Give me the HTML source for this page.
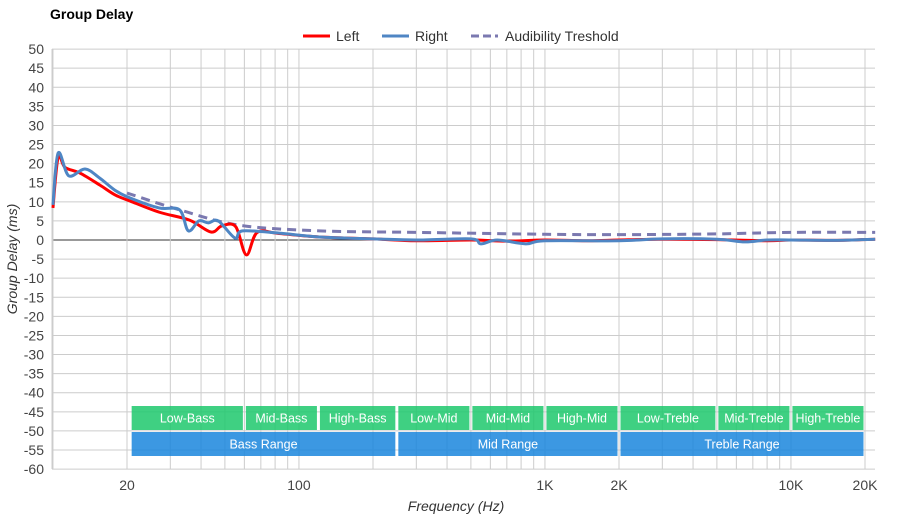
<!DOCTYPE html>
<html><head><meta charset="utf-8"><style>
body{margin:0;background:#fff;font-family:"Liberation Sans",sans-serif}
svg text{font-family:"Liberation Sans",sans-serif}
</style></head><body>
<svg id="c" width="900" height="520"></svg>
<script>
const yTicks=[50,45,40,35,30,25,20,15,10,5,0,-5,-10,-15,-20,-25,-30,-35,-40,-45,-50,-55,-60];
const xTickVals=[20,100,1000,2000,10000,20000];
const xTickLabels=["20","100","1K","2K","10K","20K"];
const leftFreq=[10,10.5,11.2,12.9,15.5,17.9,20.6,27,35.9,43.9,48.6,55.3,61.1,67.7,83,121,200,300,500,700,1000,1500,2000,3000,5000,8000,10000,15000,22000];
const leftVals=[8.4,21.7,19,17.5,14.4,11.8,10.2,7.3,5.2,2.1,3.7,3.5,-3.9,2.0,1.7,0.8,0.3,-0.2,0,-0.3,0,-0.2,0,0.2,0.1,-0.2,0,-0.1,0.2];
const rightFreq=[10,10.5,11.6,13.5,15.5,17.9,20.6,27,32.7,35.5,39.2,42.8,47,55,59,83,121,200,300,500,549,640,835,1000,2000,3000,5000,6500,8000,10000,15000,22000];
const rightVals=[9.2,22.8,16.8,18.6,16.2,13,11,8.4,7.9,2.4,5,4.5,5,0.5,2.4,1.8,0.8,0.3,0,0.3,-1,0,-1,-0.2,-0.2,0.3,0.2,-0.5,0,0,-0.1,0.2];
const thrFreq=[20,32.7,57,121,300,1000,2000,5000,10000,22000];
const thrVals=[12.3,7.9,3.9,2.4,2.0,1.5,1.4,1.6,2.0,2.0];
const bandNames=["Low-Bass","Mid-Bass","High-Bass","Low-Mid","Mid-Mid","High-Mid","Low-Treble","Mid-Treble","High-Treble"];
const bandEdges=[20.6,60,120,250,500,1000,2000,5000,10000,20000];
const rangeNames=["Bass Range","Mid Range","Treble Range"];
const rangeEdges=[20.6,250,2000,20000];

const NS="http://www.w3.org/2000/svg",svg=document.getElementById('c');
const X0=52,X1=875,Y0=49,Y1=469;
const x=f=>127+246*Math.log10(f/20);
const y=v=>240-v*(420/110);
function el(t,a,p){const e=document.createElementNS(NS,t);for(const k in a)e.setAttribute(k,a[k]);(p||svg).appendChild(e);return e;}
for(const v of yTicks){
 const g=el('line',{x1:X0,x2:X1,y1:y(v),y2:y(v),stroke:v===0?'#333':'#ccc','stroke-width':1});
 
 
 const t=el('text',{x:44,y:y(v)+5,'text-anchor':'end','font-size':14,fill:'#444'});t.textContent=v;
 
 
}
for(let d=10;d<=10000;d*=10)for(let m=1;m<=9;m++){const f=d*m;if(f>22000)break;const xx=x(f);if(xx<X0-1)continue;
 const g=el('line',{x1:xx,x2:xx,y1:Y0,y2:Y1,stroke:'#ccc','stroke-width':1});
 
 }
el('line',{x1:X0,x2:X0,y1:Y0,y2:Y1,stroke:'#ccc'});
xTickVals.forEach((f,i)=>{const t=el('text',{x:x(f),y:490,'text-anchor':'middle','font-size':14,fill:'#444'});t.textContent=xTickLabels[i];
 
 });
function band(a,b,y0,h,fill,name,label){const g=el('g',{});
 
 
 el('rect',{x:x(a)+1.5,y:y0,width:x(b)-x(a)-3,height:h,fill:fill,opacity:0.85},g);
 const t=el('text',{x:(x(a)+x(b))/2,y:y0+h/2+4.5,'text-anchor':'middle','font-size':12.5,fill:'#fff'},g);t.textContent=name;}
bandNames.forEach((n,i)=>band(bandEdges[i],bandEdges[i+1],406,24,'#1dc86c',n,'band-'+n.toLowerCase()));
rangeNames.forEach((n,i)=>band(rangeEdges[i],rangeEdges[i+1],432,24,'#1a86dd',n,'range-'+n.toLowerCase().replace(' ','-')));
function path(fs,vs){const p=fs.map((f,i)=>[x(f),y(vs[i])]);let d='M'+p[0][0]+','+p[0][1];
 for(let i=0;i<p.length-1;i++){const a=p[Math.max(0,i-1)],b=p[i],c=p[i+1],e=p[Math.min(p.length-1,i+2)];
 d+=`C${b[0]+(c[0]-a[0])/6},${b[1]+(c[1]-a[1])/6} ${c[0]-(e[0]-b[0])/6},${c[1]-(e[1]-b[1])/6} ${c[0]},${c[1]}`;}return d;}
const pt=el('path',{d:path(thrFreq,thrVals),fill:'none',stroke:'#7b79b0','stroke-width':3,'stroke-dasharray':'9,6'});


const pl=el('path',{d:path(leftFreq,leftVals),fill:'none',stroke:'#f00','stroke-width':3});


const pr=el('path',{d:path(rightFreq,rightVals),fill:'none',stroke:'#4f86c4','stroke-width':3});


</script>
<svg width="900" height="520" style="position:absolute;left:0;top:0">
<text x="50" y="19" font-size="14" font-weight="bold" fill="#000">Group Delay</text>
<g><line x1="303" x2="330" y1="36" y2="36" stroke="#f00" stroke-width="3"/><text x="336" y="41" font-size="14" fill="#333">Left</text></g>
<g><line x1="382" x2="409" y1="36" y2="36" stroke="#4f86c4" stroke-width="3"/><text x="415" y="41" font-size="14" fill="#333">Right</text></g>
<g><line x1="471" x2="498" y1="36" y2="36" stroke="#7b79b0" stroke-width="3" stroke-dasharray="8,4"/><text x="505" y="41" font-size="14" fill="#333">Audibility Treshold</text></g>
<text x="456" y="511" font-size="14" font-style="italic" text-anchor="middle" fill="#333">Frequency (Hz)</text>
<text transform="translate(17,259) rotate(-90)" font-size="14" font-style="italic" text-anchor="middle" fill="#333">Group Delay (ms)</text>
</svg>
</body></html>
